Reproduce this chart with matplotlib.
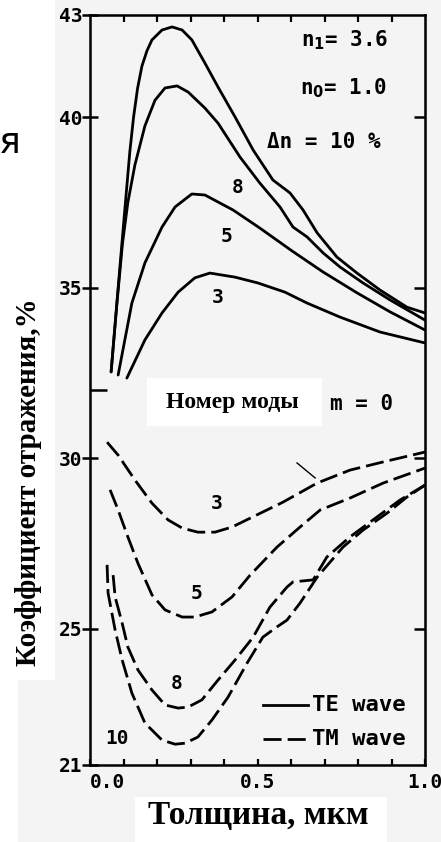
import matplotlib.pyplot as plt
import matplotlib.patches as patches

# TE-волна (сплошные линии), толщина в мкм, коэффициент отражения в %
te3_x = [0.110, 0.164, 0.215, 0.263, 0.313, 0.358, 0.433, 0.501, 0.582, 0.648, 0.746, 0.866, 1.0]
te3_y = [32.35, 33.47, 34.26, 34.87, 35.29, 35.43, 35.31, 35.14, 34.87, 34.55, 34.14, 33.70, 33.38]

te5_x = [0.084, 0.125, 0.164, 0.215, 0.254, 0.304, 0.343, 0.427, 0.507, 0.603, 0.696, 0.797, 0.896, 1.0]
te5_y = [32.44, 34.55, 35.73, 36.78, 37.37, 37.75, 37.72, 37.28, 36.75, 36.08, 35.46, 34.85, 34.29, 33.76]

te8_x = [0.063, 0.080, 0.097, 0.113, 0.134, 0.164, 0.194, 0.224, 0.260, 0.293, 0.343, 0.382, 0.448,
         0.507, 0.567, 0.606, 0.648, 0.696, 0.746, 0.815, 0.896, 1.0]
te8_y = [32.53, 34.50, 36.30, 37.50, 38.60, 39.75, 40.50, 40.86, 40.92, 40.74, 40.27, 39.83, 38.83,
         38.07, 37.37, 36.78, 36.49, 36.02, 35.61, 35.14, 34.64, 34.05]

te10_x = [0.063, 0.084, 0.104, 0.119, 0.130, 0.142, 0.155, 0.170, 0.185, 0.215, 0.245, 0.275, 0.304,
          0.343, 0.382, 0.433, 0.487, 0.546, 0.597, 0.636, 0.678, 0.737, 0.797, 0.866, 0.946, 1.0]
te10_y = [32.53, 35.00, 37.30, 39.00, 40.00, 40.85, 41.50, 41.95, 42.27, 42.56, 42.65, 42.56, 42.27,
          41.59, 40.89, 40.01, 39.04, 38.16, 37.78, 37.28, 36.61, 35.90, 35.43, 34.93, 34.43, 34.26]

# TM-волна (штриховые линии)
tm3_x = [0.051, 0.084, 0.134, 0.185, 0.233, 0.275, 0.322, 0.373, 0.424, 0.478, 0.576, 0.678, 0.776, 0.875, 1.0]
tm3_y = [30.47, 30.09, 29.36, 28.68, 28.19, 27.95, 27.83, 27.83, 27.98, 28.24, 28.71, 29.27, 29.65, 29.89, 30.18]

tm5_x = [0.060, 0.084, 0.113, 0.143, 0.185, 0.224, 0.275, 0.313, 0.364, 0.424, 0.478, 0.558,
         0.627, 0.687, 0.776, 0.875, 1.0]
tm5_y = [29.07, 28.48, 27.69, 26.92, 25.99, 25.55, 25.34, 25.34, 25.49, 25.93, 26.57, 27.39,
         27.98, 28.48, 28.83, 29.27, 29.71]

tm8_x = [0.069, 0.075, 0.096, 0.113, 0.143, 0.185, 0.224, 0.263, 0.293, 0.334, 0.382, 0.433,
         0.487, 0.537, 0.588, 0.606, 0.666, 0.707, 0.776, 0.845, 0.925, 1.0]
tm8_y = [26.57, 25.93, 25.16, 24.46, 23.79, 23.20, 22.76, 22.67, 22.70, 22.91, 23.49, 24.08,
         24.75, 25.63, 26.22, 26.37, 26.43, 27.10, 27.69, 28.19, 28.77, 29.21]

tm10_x = [0.051, 0.054, 0.075, 0.096, 0.125, 0.164, 0.215, 0.254, 0.284, 0.322, 0.364, 0.412,
          0.469, 0.516, 0.558, 0.588, 0.627, 0.678, 0.755, 0.815, 0.887, 0.946, 1.0]
tm10_y = [26.87, 26.04, 24.96, 24.08, 23.11, 22.23, 21.73, 21.61, 21.64, 21.82, 22.32, 22.99,
          23.99, 24.75, 25.05, 25.25, 25.75, 26.51, 27.39, 27.89, 28.39, 28.86, 29.21]

# подписи номеров мод
te_labels = ['3', '5', '8']
tm_labels = ['3', '5', '8', '10']

y_ticks = [21, 25, 30, 35, 40, 43]
y_ticklabels = ['21', '25', '30', '35', '40', '43']
x_ticks = [0.0, 0.5, 1.0]
x_ticklabels = ['0.0', '0.5', '1.0']

W, H = 441, 842
MONO = 'DejaVu Sans Mono'
SERIF = 'Liberation Serif'
SCAN = '#f4f4f4'


def fpos(px, py):
    # пиксели картинки -> координаты фигуры
    return px / W, 1 - py / H


fig = plt.figure(figsize=(W / 100, H / 100), dpi=100, facecolor=SCAN)
ax = fig.add_axes([90 / W, 1 - 765 / H, 335 / W, 750 / H])
ax.set_facecolor('none')

# белые вставки поверх скана
for x0, y0, w, h in [(0, 0, 55, 680), (0, 680, 18, 162), (135, 797, 252, 45)]:
    fig.add_artist(patches.Rectangle(fpos(x0, y0 + h), w / W, h / H, transform=fig.transFigure,
                                     facecolor='white', edgecolor='none', zorder=-1))

lw = 2.0
for xs, ys in [(te3_x, te3_y), (te5_x, te5_y), (te8_x, te8_y), (te10_x, te10_y)]:
    ax.plot(xs, ys, color='black', lw=lw, solid_joinstyle='round', solid_capstyle='round')
for xs, ys in [(tm3_x, tm3_y), (tm5_x, tm5_y), (tm8_x, tm8_y), (tm10_x, tm10_y)]:
    ax.plot(xs, ys, color='black', lw=lw, dashes=(6.5, 2.2), dash_capstyle='butt')

ax.set_xlim(0, 1)
ax.set_ylim(21, 43)

# оси и засечки
for sp in ax.spines.values():
    sp.set_linewidth(1.8)
ax.set_yticks(y_ticks)
ax.set_yticklabels(y_ticklabels)
ax.set_yticks([32], minor=True)
ax.set_xticks(x_ticks)
ax.set_xticklabels(x_ticklabels)
ax.set_xticks([0.1, 0.2, 0.3, 0.4, 0.6, 0.7, 0.8, 0.9], minor=True)
ax.tick_params(axis='y', which='major', direction='inout', length=11, width=1.8, pad=0)
ax.tick_params(axis='y', which='minor', direction='in', length=12, width=1.8)
ax.tick_params(axis='x', which='both', direction='in', length=4, width=1.6, pad=6)
for lab in ax.get_xticklabels() + ax.get_yticklabels():
    lab.set_fontfamily(MONO)
    lab.set_fontweight('bold')
    lab.set_fontsize(14)
ax.get_xticklabels()[0].set_horizontalalignment('left')

top = ax.secondary_xaxis('top')
top.set_xticks([0.1, 0.2, 0.3, 0.4, 0.5, 0.6, 0.7, 0.8, 0.9])
top.tick_params(direction='in', length=5, width=1.6, labeltop=False)
right = ax.secondary_yaxis('right')
right.set_yticks([25, 30, 35, 40])
right.tick_params(direction='in', length=8, width=1.8, labelright=False)

# надписи внутри графика
txt = dict(family=MONO, weight='bold', fontsize=15, ha='center', va='center')
ax.text(0.761, 42.27, r'n$_\mathbf{1}$= 3.6', **txt)
ax.text(0.758, 40.86, r'n$_\mathbf{0}$= 1.0', **txt)
ax.text(0.699, 39.27, 'Δn = 10 %', **txt)
ax.text(0.812, 31.59, 'm = 0', **txt)

lab = dict(family=MONO, weight='bold', fontsize=14, ha='center', va='center')
for t, (x, y) in zip(te_labels, [(0.382, 34.70), (0.406, 36.49), (0.442, 37.95)]):
    ax.text(x, y, t, **lab)
for t, (x, y) in zip(tm_labels, [(0.379, 28.68), (0.319, 26.04), (0.260, 23.40), (0.081, 21.79)]):
    ax.text(x, y, t, **lab)

# легенда
ax.plot([0.516, 0.651], [22.76, 22.76], color='black', lw=lw)
ax.plot([0.516, 0.651], [21.76, 21.76], color='black', lw=lw, dashes=(6.5, 2.2))
ax.text(0.663, 22.76, 'TE wave', family=MONO, weight='bold', fontsize=16, va='center')
ax.text(0.663, 21.76, 'TM wave', family=MONO, weight='bold', fontsize=16, va='center')

# случайный штрих на скане
ax.plot([0.618, 0.672], [29.86, 29.42], color='black', lw=1.0)

# вставка "Номер моды"
fig.add_artist(patches.Rectangle(fpos(147, 426), 175 / W, 48 / H, transform=fig.transFigure,
                                 facecolor='white', edgecolor='none', zorder=3))
fig.text(*fpos(232, 403), 'Номер моды', family=SERIF, weight='bold', fontsize=17,
         ha='center', va='center', zorder=4)

fig.text(*fpos(29, 482), 'Коэффициент отражения,%', family=SERIF, weight='bold', fontsize=21,
         rotation=90, ha='center', va='center', zorder=4)
fig.text(*fpos(258, 815), 'Толщина, мкм', family=SERIF, weight='bold', fontsize=24,
         ha='center', va='center', zorder=4)
fig.text(*fpos(10, 143), 'я', family='DejaVu Sans', fontsize=26, ha='center', va='center')

fig.savefig('out.png', dpi=100, facecolor=SCAN)
